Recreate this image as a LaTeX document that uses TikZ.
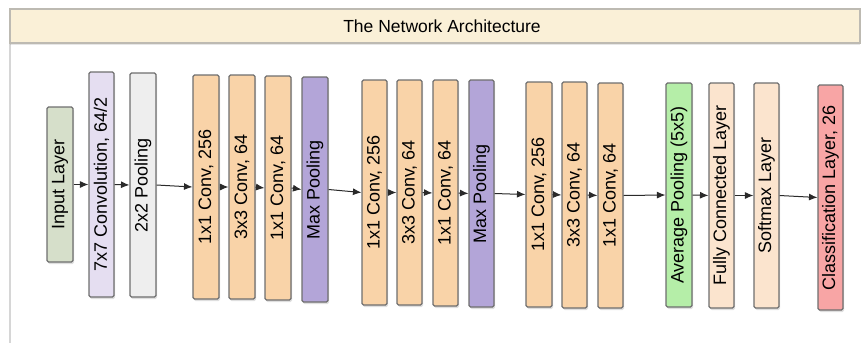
\documentclass[tikz,border=0pt]{standalone}
\usepackage{fontspec}
\setmainfont{Liberation Sans}
\usetikzlibrary{arrows.meta,shadows}
\definecolor{titlefill}{HTML}{FAF0D7}
\definecolor{titledraw}{HTML}{BDBAB2}
\definecolor{framecol}{HTML}{D6D6D6}
\definecolor{boxdraw}{HTML}{6E6E6E}
\definecolor{inputgreen}{HTML}{D6DFCA}
\definecolor{lavender}{HTML}{E5DEF1}
\definecolor{poolgray}{HTML}{EEEEEE}
\definecolor{peach}{HTML}{F9D3A8}
\definecolor{purple}{HTML}{B3A5D8}
\definecolor{avggreen}{HTML}{B5EEA8}
\definecolor{lightpeach}{HTML}{FBE4CE}
\definecolor{pink}{HTML}{F8A5A5}
\definecolor{arrowcol}{HTML}{2A2A2A}
\tikzset{
  layerbox/.style={draw=boxdraw, line width=1.1pt, rounded corners=1.5pt, inner sep=0pt,
    drop shadow={shadow xshift=1pt, shadow yshift=-2pt, opacity=0.25},
    font=\fontsize{18}{20}\selectfont},
  flow/.style={draw=arrowcol, line width=1pt, -{Latex[length=8.5pt,width=7pt]}},
}
\newcommand{\layer}[8]{%
  \node[layerbox, fill=#6, minimum width=#4pt, minimum height=#5pt] (#1) at (#2,#3) {\rotatebox{90}{#7}};}
\begin{document}
\begin{tikzpicture}[x=1pt,y=-1pt]
\useasboundingbox (0,0) rectangle (862,343);
\draw[framecol, line width=1.5pt] (10,43) -- (10,343);
\node[draw=titledraw, fill=titlefill, line width=1.2pt, minimum width=850pt, minimum height=34pt,
  inner sep=0pt, drop shadow={shadow xshift=0pt, shadow yshift=-1.5pt, opacity=0.2}] (title) at (435,26) {};
\node[font=\fontsize{17.5}{20}\selectfont] (titletext) at (442,26) {The Network Architecture};
\layer{inp}{60}{184.5}{26}{155}{inputgreen}{Input Layer}{}
\layer{c7}{101.5}{184.5}{25}{225}{lavender}{7x7 Convolution, 64/2}{}
\layer{p2}{143}{185}{26}{224}{poolgray}{2x2 Pooling}{}
\layer{a1}{206}{187}{26}{224}{peach}{1x1 Conv, 256}{}
\layer{a2}{242}{187}{26}{224}{peach}{3x3 Conv, 64}{}
\layer{a3}{278}{188}{26}{224}{peach}{1x1 Conv, 64}{}
\layer{am}{315}{189.5}{26}{225}{purple}{Max Pooling}{}
\layer{b1}{374.5}{192.5}{25}{225}{peach}{1x1 Conv, 256}{}
\layer{b2}{409.5}{192.5}{25}{225}{peach}{3x3 Conv, 64}{}
\layer{b3}{445.5}{193}{25}{226}{peach}{1x1 Conv, 64}{}
\layer{bm}{481.5}{193.5}{25}{227}{purple}{Max Pooling}{}
\layer{c1}{539}{194.5}{26}{225}{peach}{1x1 Conv, 256}{}
\layer{c2}{574.5}{195}{25}{226}{peach}{3x3 Conv, 64}{}
\layer{c3}{610.5}{195.5}{25}{225}{peach}{1x1 Conv, 64}{}
\layer{avg}{679}{195}{26}{224}{avggreen}{Average Pooling (5x5)}{}
\layer{fc}{721.5}{195.5}{25}{225}{lightpeach}{Fully Connected Layer}{}
\layer{sm}{766.5}{195.5}{25}{225}{lightpeach}{Softmax Layer}{}
\layer{cls}{830.5}{197.5}{25}{225}{pink}{Classification Layer, 26}{}
\foreach \a/\b in {inp/c7,c7/p2,p2/a1,a1/a2,a2/a3,a3/am,am/b1,b1/b2,b2/b3,b3/bm,bm/c1,c1/c2,c2/c3,c3/avg,avg/fc,fc/sm,sm/cls}
  \draw[flow] (\a.east) -- (\b.west);
\end{tikzpicture}
\end{document}
